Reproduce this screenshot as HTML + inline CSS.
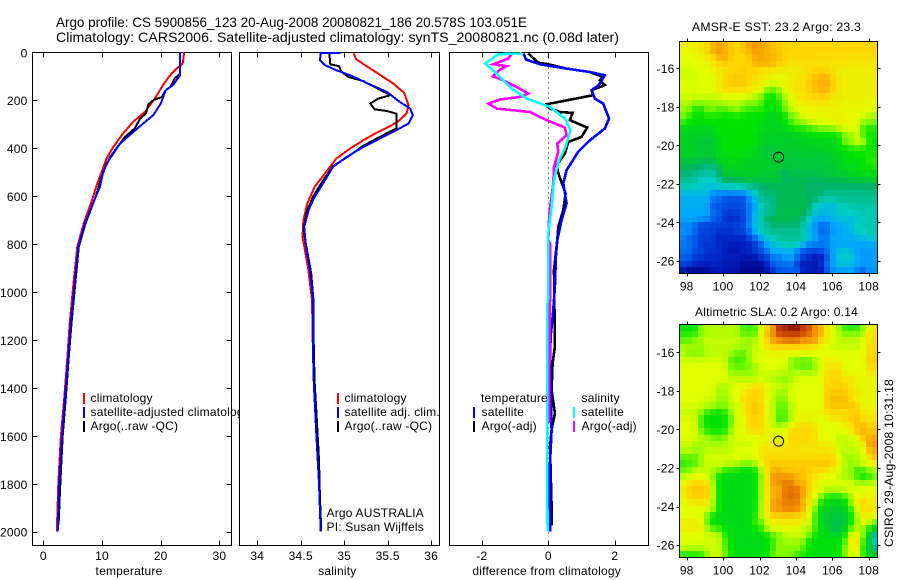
<!DOCTYPE html>
<html lang="en">
<head>
<meta charset="utf-8">
<title>Argo profile 5900856_123</title>
<style>
html,body{margin:0;padding:0;background:#fff;}
svg{display:block;font-family:"Liberation Sans",sans-serif;font-size:12px;fill:#000;letter-spacing:.2px;}
.big{font-size:14px;letter-spacing:0;}
.crisp line,.crisp rect,.crisp polyline{shape-rendering:crispEdges;}
polyline{fill:none;stroke-linejoin:miter;}
</style>
</head>
<body>
<svg id="chart" class="crisp" xmlns="http://www.w3.org/2000/svg" width="900" height="580" viewBox="0 0 900 580">
  <rect x="0" y="0" width="900" height="580" fill="#fff"/>
  <text class="big" x="56" y="27" textLength="471" lengthAdjust="spacingAndGlyphs">Argo profile: CS 5900856_123 20-Aug-2008 20080821_186 20.578S 103.051E</text>
  <text class="big" x="56" y="42" textLength="563" lengthAdjust="spacingAndGlyphs">Climatology: CARS2006. Satellite-adjusted climatology: synTS_20080821.nc (0.08d later)</text>
  <g id="p1"></g>
  <g id="p1legend">
    <line x1="84" y1="393" x2="84" y2="404" stroke="#f00" stroke-width="2"/>
    <line x1="84" y1="407" x2="84" y2="418" stroke="#00f" stroke-width="2"/>
    <line x1="84" y1="421" x2="84" y2="432" stroke="#000" stroke-width="2"/>
    <text x="90.5" y="402">climatology</text>
    <text x="90.5" y="416">satellite-adjusted climatology</text>
    <text x="90.5" y="430">Argo(..raw -QC)</text>
  </g>
  <g id="p2"></g>
  <g id="p2legend">
    <line x1="338" y1="393" x2="338" y2="404" stroke="#f00" stroke-width="2"/>
    <line x1="338" y1="407" x2="338" y2="418" stroke="#00f" stroke-width="2"/>
    <line x1="338" y1="421" x2="338" y2="432" stroke="#000" stroke-width="2"/>
    <text x="344.5" y="402">climatology</text>
    <text x="344.5" y="416">satellite adj. clim.</text>
    <text x="344.5" y="430">Argo(..raw -QC)</text>
    <text x="326.5" y="517">Argo AUSTRALIA</text>
    <text x="326.5" y="531">PI: Susan Wijffels</text>
  </g>
  <g id="p3"></g>
  <g id="p3legend">
    <text x="481" y="402">temperature</text>
    <text x="581.5" y="402">salinity</text>
    <line x1="474" y1="407" x2="474" y2="418" stroke="#00f" stroke-width="2"/>
    <line x1="474" y1="421" x2="474" y2="432" stroke="#000" stroke-width="2"/>
    <line x1="574" y1="407" x2="574" y2="418" stroke="#0ff" stroke-width="2"/>
    <line x1="574" y1="421" x2="574" y2="432" stroke="#f0f" stroke-width="2"/>
    <text x="481.5" y="416">satellite</text>
    <text x="481.5" y="430">Argo(-adj)</text>
    <text x="581.5" y="416">satellite</text>
    <text x="581.5" y="430">Argo(-adj)</text>
  </g>
  <text x="692" y="31" textLength="169" lengthAdjust="spacingAndGlyphs">AMSR-E SST: 23.2 Argo: 23.3</text>
  <g id="m1"></g>
  <text x="695" y="316" textLength="163" lengthAdjust="spacingAndGlyphs">Altimetric SLA: 0.2 Argo: 0.14</text>
  <g id="m2"></g>
  <text transform="translate(893,547) rotate(-90)" textLength="168" lengthAdjust="spacingAndGlyphs">CSIRO 29-Aug-2008 10:31:18</text>
</svg>
<script>
const depthTicks = [0,200,400,600,800,1000,1200,1400,1600,1800,2000];
const tempTicks = [0,10,20,30];
const salTicks = [34,34.5,35,35.5,36];
const diffTicks = [-2,0,2];
const lonTicks = [98,100,102,104,106,108];
const latTicks = [-16,-18,-20,-22,-24,-26];
const profileLon = 103.051;
const profileLat = -20.578;

const tempClimDepth = [0,47,68,96,137,193,249,290,346,395,442,499,554,610,713,811,950,1130,1270,1436,1600,1800,2000];
const tempClimValue = [24,23.75,22.7,21.6,20.4,19,17.3,15.3,13.35,11.9,10.8,9.95,9.1,8.4,6.9,5.8,5.2,4.5,4.1,3.6,3.0,2.55,2.3];
const tempSatDepth = [0,96,137,158,214,262,297,340,380,436,499,561,610,713,811,950,1130,1270,1436,1600,1800,2000];
const tempSatValue = [23.3,23.3,22.1,20.85,20,18.75,17,15,13.1,11.4,10.2,9.65,8.8,7.1,5.97,5.4,4.67,4.26,3.7,3.2,2.7,2.45];
const tempArgoDepth = [0,90,108,146,158,186,200,217,255,276,317,353,401,464,519,610,713,811,950,1130,1270,1436,1600,1800,1970];
const tempArgoValue = [23.3,23.3,22.4,21.6,20.85,20.2,18.75,17.9,17.5,16.5,15.6,13.9,12.5,10.8,9.95,8.8,7.2,6.05,5.5,4.8,4.35,3.85,3.3,2.9,2.6];

const salClimDepth = [5,30,54,89,130,170,221,253,283,308,336,367,401,443,505,561,630,700,770,900,1033,1242,1380,1600,1800,2000];
const salClimValue = [35.11,35.14,35.24,35.39,35.565,35.69,35.74,35.72,35.64,35.53,35.37,35.22,35.07,34.91,34.78,34.66,34.575,34.53,34.52,34.585,34.63,34.64,34.65,34.68,34.71,34.735];
const salSatDepth = [3,3,8,33,54,75,96,128,165,207,235,262,297,325,360,395,436,478,533,603,658,728,811,922,1033,1242,1380,1600,1800,2000];
const salSatValue = [34.96,34.73,34.73,34.72,34.78,34.91,35.07,35.26,35.49,35.64,35.76,35.79,35.74,35.6,35.41,35.22,35.03,34.87,34.78,34.66,34.59,34.54,34.56,34.61,34.64,34.64,34.65,34.68,34.71,34.73];
const salArgoDepth = [5,50,58,82,103,120,156,179,193,214,238,245,256,318,353,390,429,475,533,603,665,741,811,922,1033,1242,1380,1500,1700,1850,1990];
const salArgoValue = [34.83,34.84,34.94,34.97,35.05,35.22,35.41,35.53,35.39,35.3,35.35,35.49,35.6,35.6,35.41,35.22,35.07,34.87,34.76,34.64,34.57,34.53,34.565,34.62,34.645,34.65,34.66,34.68,34.71,34.72,34.735];

const diffTempSatDepth = [5,30,50,68,82,96,137,158,193,214,276,318,367,415,492,547,630,700,783,853,978,1075,1186,1300,1575,1715,2000];
const diffTempSatValue = [-0.75,-0.67,-0.25,0.55,1.25,1.7,1.52,1.3,1.4,1.65,1.83,1.7,1.25,0.9,0.55,0.45,0.55,0.4,0.27,0.23,0.2,0.15,0.07,0.05,0.1,0.05,0.05];
const diffTempArgoDepth = [5,44,50,68,82,103,117,137,158,179,218,235,249,253,283,314,353,374,422,471,505,589,658,728,783,908,1228,1297,1408,1507,1575,1646,1895,1975];
const diffTempArgoValue = [-0.6,-0.3,0,0.55,1.25,1.65,1.55,1.7,1.3,1.35,-0.1,0.05,0.35,0.73,0.65,1.17,1.0,0.6,0.5,0.25,0.3,0.52,0.45,0.3,0.27,0.17,0.2,0.13,0.1,0.2,0.1,0.05,0.1,0.1];
const diffSalSatDepth = [5,8,47,82,110,151,193,228,276,325,401,457,533,645,755,1020,1054,1575,1804,2000];
const diffSalSatValue = [-0.8,-1.5,-1.9,-1.6,-1.4,-1.1,-0.65,0.05,0.5,0.67,0.5,0.3,0.17,0.1,0,0,-0.03,-0.03,-0.03,-0.02];
const diffSalArgoDepth = [8,26,50,58,72,85,100,117,145,172,186,197,214,235,249,270,283,314,346,380,415,478,547,672,783,797,1020,1380,1546];
const diffSalArgoValue = [-1.1,-1.2,-1.65,-1.25,-1.45,-1.55,-1.67,-1.35,-0.95,-0.6,-0.85,-1.45,-1.8,-1.55,-0.55,-0.25,-0.05,0.5,0.55,0.27,0.3,0.17,0.15,0.03,0,0.05,0.05,0.03,0.02];

const colorLevels = [[0,0,130],[0,30,190],[0,90,235],[0,165,255],[0,205,195],[0,178,100],[0,228,0],[130,250,0],[225,255,0],[255,215,0],[245,150,0],[205,70,0],[140,15,0]];

const sstCells = [
[8.2,8.2,8.4,8.6,9,9.5,9.8,9.6,9.1,9,9.2,9.8,10,9.8,9.5,9.3,9.2,9.1,9,9,9,9,9,9,9,9,9,9,9,9,9,9,9],
[8.1,8.2,8.3,8.5,9,9.6,10,9.7,9.2,9,9.1,9.6,9.9,9.8,9.6,9.4,9.2,9.1,9,9,9,9,9,9,9,9,9,9,9,9,9,9,9],
[8,8,8.1,8.2,8.5,9,9.6,9.6,9.2,9,9,9,9.7,9.8,9.5,9.6,9.4,9,8.9,9,9,9,8.9,8.9,8.9,8.9,8.9,8.9,8.8,8.8,8.8,8.8,8.8],
[8,8,8,8.1,8.3,8.6,9,9.2,9,9,9,9,9.5,9.6,9.6,9.5,9,8.9,8.7,8.7,8.7,8.8,8.8,8.7,8.7,8.6,8.6,8.6,8.6,8.6,8.6,8.6,8.6],
[7.8,7.8,7.9,8,8,8.2,8.5,8.8,9,9.1,9.2,9,9,8.8,8.7,8.6,8.5,8.5,8.4,8.5,8.6,8.8,9,9.1,9,8.7,8.5,8.4,8.4,8.4,8.5,8.5,8.5],
[7.9,7.8,7.8,7.9,8,8.1,8.4,8.8,9.1,9.2,9.2,9.1,8.8,8.6,8.4,8.2,8.2,8.3,8.3,8.5,8.8,9,9.3,9.5,9.5,9,8.6,8.4,8.4,8.4,8.4,8.4,8.4],
[8,7.9,7.9,8,8,8.1,8.5,9,9.2,9.2,9.2,9.1,8.6,8.4,8,7.8,8,8.2,8.5,8.6,8.9,9.2,9.4,9.6,9.7,9.2,8.6,8.4,8.4,8.4,8.4,8.4,8.4],
[8,7.9,7.9,8,8,8.1,8.5,8.9,9,9,8.9,8.7,8.3,8.1,7,6.5,7.2,8,8.5,8.7,8.9,9,9.3,9.5,9.6,9,8.6,8.4,8.4,8.4,8.4,8.4,8.4],
[7.8,7.9,7.8,7.9,7.8,7.8,7.9,8,8,8,8,7.8,7.6,7,6.1,6,6.5,7.6,8.2,8.5,8.7,8.9,9.1,9.2,9,8.7,8.5,8.4,8.4,8.4,8.4,8.4,8.4],
[7.5,7.4,7,7,7,7.2,7.2,7.5,7.6,7.6,7.2,7,7,6.6,6,6,6.2,7,8,8.3,8.5,8.5,8.6,8.6,8.5,8.4,8.4,8.3,8.3,8.3,8.3,8.3,8.2],
[7.3,7,6.2,6.1,7,7,6.6,6.5,7,7.2,6.7,6.4,6.4,6.3,6,5.9,6,6.9,7.5,8,8.2,8.3,8.3,8.3,8.3,8.3,8.3,8.2,8.2,8.2,8.2,8.1,8],
[7,6.4,6,6,6.2,6.2,6.2,6,6,6.2,6,6,6,6,5.8,5.7,5.8,6,7,7.5,8,8.2,8.2,8.3,8.2,8.3,8.4,8.2,8.2,8.1,8,7.6,7.4],
[6.5,6,6,6,6,6,6,6,6,6,6,6,6,5.9,5.7,5.7,5.8,5.9,6.5,7,7.2,7.8,7.9,8,8.2,8.3,8.3,8.2,8.2,8,7.2,6.9,6.9],
[5.8,5.7,5.7,5.7,5.7,5.8,5.9,6,6,6,6,6,6,5.8,5.7,5.7,5.7,5.7,6,6.2,6.2,6.5,6.6,7,7,7,7.8,7.9,8,8.1,6.4,6.2,6.2],
[5.7,5.6,5.6,5.6,5.6,5.6,5.9,6,6,6,6,6,6,5.7,5.6,5.6,5.6,5.6,5.6,5.7,5.8,5.8,5.9,5.9,5.9,6,6,7,7.1,8,6.3,6.2,6.1],
[5.7,5.6,5.6,5.5,5.4,5.4,5.8,6,6,6,6,6,6,5.7,5.6,5.6,5.6,5.6,5.6,5.6,5.7,5.7,5.7,5.7,5.7,5.7,5.9,7,7.2,7.8,7.8,6,6],
[5.7,5.6,5.6,5.5,5.5,5.6,5.8,6,6,6,6,5.9,5.7,5.6,5.3,5.3,5.5,5.6,5.6,5.6,5.6,5.6,5.6,5.7,5.7,5.7,6,6,6.2,6.4,6.2,6,6],
[5.6,5.6,5.6,5.5,5.5,5.5,5.8,5.8,5.9,5.9,5.8,5.8,5.7,5.6,5.4,5.5,5.5,5.5,5.5,5.5,5.5,5.5,5.5,5.5,5.5,5.7,5.7,5.8,6,6,6,6.2,6.2],
[5.4,5.4,5.4,5.2,5.2,5.3,5.7,5.7,5.8,5.7,5.7,5.6,5.6,5.6,5.6,5.5,5.4,5.4,5.4,5.4,5.4,5.4,5.4,5.4,5.6,5.6,5.6,5.9,5.9,5.9,5.9,6.3,6.3],
[5.2,5.2,5,5,4.5,4.5,5.3,5.7,5.7,5.7,5.7,5.6,5.6,5.6,5.6,5.6,5.5,5.4,5.4,5.4,5.4,5.4,5.4,5.4,5.4,5.4,5.8,5.8,5.8,5.8,6.1,6.1,6.2],
[4.9,4.7,4.7,4.4,4.3,4.3,4.9,5.6,5.6,5.6,5.6,5.6,5.6,5.6,5.5,5.5,5.4,4.9,5.3,5.3,5.3,5.3,5.3,5.3,5.5,5.5,5.5,5.5,5.8,5.8,5.8,5.8,5.8],
[4.5,4.5,4.5,3.9,3.9,3.9,4.4,5.1,5.1,5.2,5.4,5.4,5.4,5.4,5.4,5.4,5.4,5,5.1,5.1,5.1,5.1,5.1,5.1,5.2,5.2,5.2,5.2,5.4,5.4,5.4,5.4,5.7],
[4.2,4.2,3.9,3.9,3.9,3.8,3.9,4,4,4.1,4.1,4.6,4.6,4.7,5.1,5.1,5.2,5.2,5.2,5.2,5.2,4.9,4.9,4.9,4.9,4.9,4.9,4.9,4.9,4.9,4.9,4.9,4.9],
[3.5,3.5,3.5,3.5,3.5,2.6,2.5,2.5,2.5,2.6,2.6,3.2,3.9,4.8,4.8,4.8,5.2,5.2,5.2,5.2,5.2,5,5,5,4.6,4.6,4.6,4.6,4.6,4.6,4.6,4.6,4.6],
[3.1,3.1,3.2,3.2,3.2,2.3,2.3,1.8,1.8,1.8,1.8,2.6,3.5,4.6,4.6,4.6,5.2,5.2,5.2,5.2,5.2,5,5,4.2,4.2,4.2,4.5,4.5,4.5,4.5,4.5,4.5,4.5],
[3.3,3.3,3.3,3.3,3,1.9,1.8,1.8,1.8,1.8,1.8,2.5,2.6,4,4.6,4.6,5.2,5.2,5.2,5.2,5.2,5,3.8,3.8,3.4,3.4,4,4,4.3,4.3,4.3,4.3,4.3],
[3.1,3.1,3.1,3.1,3.1,2.2,2.2,1.5,1.5,1.6,1.6,2.4,3.4,4.4,4.4,4.4,5.3,5.3,5.3,5.3,5.1,4.8,3.6,3.6,3.6,3.6,3.9,3.9,3.9,4.2,4.2,4.2,4.2],
[3,3,3,2.8,2.8,2,2,1.2,1.2,1.2,1.5,2.4,3.4,4.2,5.2,5.2,5.2,5.2,5.2,5.2,4.8,4,3,3,3,3.6,3.6,3.6,3.6,3.6,4.2,4.2,4.2],
[2.6,2.6,2.3,1.6,1.6,1.6,1.6,1.6,1.6,1.7,1.7,2.6,3.5,4.3,4.3,4.9,4.9,4.9,4.9,4.9,4.5,3.5,2.8,2.2,2.2,3,3,3.4,3.4,4.2,4.2,4.2,4.2],
[2.8,2.8,2.2,1.6,1.6,1.6,1.2,1.3,1.3,1.6,1.6,2.1,3.2,4,4.5,4.5,4.5,4.5,4.5,4.5,4.3,3.4,2.9,2.2,2.2,3,3,3.3,3.3,4,4,4.3,4.3],
[2.6,2,2,1.5,1.5,1.5,1.1,1.1,1.1,1.1,1.1,1.6,2.3,3.1,3.9,3.9,4.5,4.5,4.5,4.5,4.5,3.6,3,2.4,2.4,3.1,3.1,3.1,3.3,3.3,3.5,3.7,3.7],
[2.4,2.4,2,1.4,1.4,1.4,1.1,1.1,1,1,1,1.2,1.2,2.1,3,3.7,3.7,4.2,4.2,4.2,3.3,2.5,2.5,2.5,2.5,3,3,3,3,3,3,3.1,3.1],
[2.3,2.3,1.7,1.7,1.3,1.3,1.3,1,0.7,0.7,1,1,1.7,1.7,2.4,3.3,3.3,3.3,3.3,2.5,2,1.7,1.7,1.7,2.3,3,3.7,3.7,3.7,2.9,2.9,2.9,2.9],
[2.1,2.1,1.5,1.5,1.2,1.2,1.2,1,1,1,0.8,0.8,0.8,1.5,1.5,2.4,2.4,3,3,2.5,1.3,1.3,0.9,0.9,1.8,3,3.9,3.9,3.9,3,2.8,2.8,3],
[1.6,1.6,1.2,1.1,1.1,1.1,1.1,0.8,0.8,0.8,0.4,0.4,0.4,0.4,1.1,2.2,2.2,2.2,2.6,1.5,0.8,0.8,0.8,1.2,2.4,3,3.7,3.7,3.7,3,3,2.8,3],
[0.8,0.2,0.2,0.4,0.4,0.8,0.8,0.8,0.7,0.7,0.2,0.2,0.2,0.2,0.6,1.4,2,2,2,2.2,1,1,0.8,0.8,2,2.8,2.8,2.8,3,2.5,2,2.8,2.8]
];

const slaCells = [
[6,6,6,7,7.5,7.5,7.5,7.5,7.5,7.5,6.5,6.5,6.5,8,9,10,11.5,11.5,12,12,11,11,10,9.5,8.5,8,7.3,6.3,6.3,6.3,7,8.5,8.5],
[6.3,6.3,6.3,7,7.5,7.5,7.5,7.5,7.5,7.5,6.7,6.7,6.7,8,9.5,10,11,11,11,11,11,10.5,10,9.5,8.5,8,7.6,7,7,7,7.5,8.7,8.7],
[6.7,6.7,7.2,7.5,7.7,7.7,7.7,7.7,7.7,7.7,7.4,7.4,7.4,8,9,10,10,10.5,10.5,10.5,10,10,10,9,8.3,8,7.6,7.6,7.6,7.6,8,8.8,8.8],
[7.5,7.4,7.4,7,7.6,7.6,7.6,7.6,7.5,7.5,7.2,7.2,7.7,8,8.5,9,9,9,9,9,9,9,8.5,8,8,7.7,7.7,7.7,7.7,7.7,8,9,9],
[7.5,7,7,7,7.5,7.6,7.6,7.6,7.3,6.7,6.7,7.2,7.8,7.8,8.2,8.2,8.2,8.2,8.2,8.2,8,8,8,8,8,8,8,8,8,8,8,9,9],
[7.8,7.8,7.8,7.8,7.8,7.8,7.8,7.8,6.5,6.5,6.5,7.2,8,8,8,8,8,8,7.2,6.7,6.7,6.7,7.5,8,8.3,8.3,8.3,8,8,8,8,9.2,9.2],
[8,8,8,8,8,8,8,8,6.8,6.8,6.8,6.8,7.3,8,8,8,8,8,7,7,6.6,6.6,7.3,7.9,8.7,8.7,8.7,8,8,8,8,9,9],
[8,8,8,8,8,8,8,8,7.2,7.2,7.2,7.2,7.3,7.8,7.8,7.8,7.5,7.5,7.5,7.5,7.5,7.5,7.5,8,9,9,9,8.2,8.2,8.2,8,8.6,8.6],
[8,8,8,8,8,8,8,8,7.7,7.7,7.7,7.6,7.6,7.7,7.7,7.5,7.2,7.2,7.2,8,8,8,8,8,9,9,9,8.6,8.6,8.2,8.2,8.2,8.2],
[8,8,8,8,8,8,7.5,7.5,7.7,8,8.2,8.2,8.9,8.9,8.2,7.9,7.9,7.5,8,8,8,8,8,8,9.1,9.1,9.1,9.1,8.8,8.2,8.2,8.2,8.2],
[8,8,8,8,8,8,7.3,7.3,8,8,8.3,9,9,9,8.2,7.8,7.2,7.2,8,8,8,8,8,8,9.2,9.2,9.2,9.2,8.7,8.7,8.2,8.2,8.2],
[8,8,8,8,7.7,7.7,7.2,7.2,7.7,8,9,9,9,9,8.2,7.6,7,7,8,8,8,8,8,8,9,9.5,9.5,9.5,9,8.2,8.2,8.2,8.2],
[7.9,7.9,7.9,7.9,7.5,7.5,7,7,7.7,7.7,8.2,9.2,9.2,9.2,8.2,7.6,6.7,6.7,7.7,8,8,8,8,8,9.3,9.3,9.3,9.3,9.3,9,8.3,8.3,8.3],
[7.7,7.7,7.7,7,6.5,6,6,6.3,7,8.2,8.2,9.2,9.2,9.2,8.2,7.7,6.6,6.6,7.5,8.2,8.2,8.2,8.2,8.2,9,9,9,9,9,9.3,8.5,8.5,8.5],
[7.9,7.9,7.9,6.5,5.9,5.9,5.9,6,6.8,8,8,9,9,9,8.2,7.8,6.3,6.3,7.6,8.2,8.2,8.2,8.2,8,8,8.7,8.7,8.7,9.3,9.3,8.8,8.8,8.8],
[8,8,8,6.5,6,6,6,6,6.8,8,8,9,9,9,8.2,7.7,7,7.7,8,8.8,8.8,8.8,8.5,8,8,8,8,8.6,8.6,9.4,9.4,9,9],
[8,8,8,7,6.2,6.2,6.2,6.2,7.3,8,8,8.8,8.8,8.8,8.2,8,8,8,9,9,9,9,8.8,8,8,8,8,8,8.5,9.5,9.5,9.4,9.4],
[7.9,7.9,7.9,7.5,7.5,6.8,6.8,7,7.9,7.9,7.9,7.9,7.9,8,8.2,8.2,8.2,8.2,9,9,9,9,8.8,8,8,8,7.7,7.7,7.7,8,9.5,9.5,9.7],
[7.8,7.8,7.3,7.3,7.3,7.4,7.4,7.4,7.8,7.8,7.8,7.8,7.8,8.5,8.5,8.5,8.5,8.5,8.8,8.8,8.8,8.8,8.8,8.4,8.4,8.4,7.6,7.6,7.8,7.8,8.3,10,10],
[7.6,7.6,7.3,7.3,7.6,7.6,7.6,7.6,7.6,8,8,8,8,8.5,8.8,8.8,8.8,8.8,8.8,8.8,8.7,8.7,8.7,8.7,8.7,8.7,7.7,7.7,7.6,7.6,8,9.6,9.6],
[6.7,6.7,6.7,7.3,7.9,7.9,7.9,7.9,7.9,8,8,8,8,8.5,9,9,8.8,8.8,8.8,8.8,8.8,8.8,8.8,9,9,9,8,7.3,7.3,7.6,7.8,8.7,9.5],
[6.3,6.5,6.5,7.2,7.8,7.8,7.8,7.8,7.8,7.5,7,7,7.4,8.5,9,9.2,9.2,9.2,9.2,9.2,9.2,9.2,9.3,9.3,9.3,9.3,8.3,7.5,7,7.4,8,8,8.5],
[6.8,6.8,7.7,7.7,7.7,7.3,7.3,6.2,6.2,6.2,5.9,5.9,5.9,7.4,8.8,9.6,9.6,9.2,9.2,9.2,9.2,9.2,8.9,8.9,8.9,8.2,8,7.3,7.3,6.3,6.3,7.3,7.3],
[7.6,8,8,8,8,7,5.9,5.8,5.8,5.8,5.8,5.8,5.9,7,8.6,10,10,10,10,9.4,9.4,8.9,8.9,8.2,8,8,7.7,7.3,7.3,6.5,6,6,7],
[8,8.7,9,9,8.8,7.5,5.9,5.8,5.8,5.8,5.8,5.8,5.9,7.3,8.6,10,10,10.3,10.3,9.6,9.6,9,8.3,8,8,8,8,8,8,7.3,7.3,7.6,7.6],
[8.3,9.2,9.2,9.2,9.2,7.5,5.9,5.8,5.8,5.8,5.8,5.8,5.9,7.3,8.6,9.6,9.6,10.4,10.4,10.4,9.8,9,8.2,8,7.6,7.6,7.6,7.7,8,8,8,8.2,8.2],
[8.2,9.2,9.2,9.2,9.2,7.7,5.9,5.8,5.8,5.8,5.8,5.8,5.9,7.2,8.5,9.7,9.7,10.5,10.5,10.5,9.8,9,8,7.3,6.2,6.2,6.2,6.7,7.5,8.2,8.2,8.2,8.2],
[8,8.5,8.5,8.5,8.5,7.4,5.9,5.8,5.8,5.8,5.8,5.8,5.9,7.4,8.5,10,10,10.3,10.3,10.3,9.6,8.7,7.8,5.9,5.8,5.7,5.7,5.8,7,8.8,9,8.5,8.5],
[8,8,8,8,8,7.5,5.9,5.8,5.8,5.8,5.8,5.8,5.9,7.4,8.5,10,10,10.3,10.3,10.3,9.5,8.3,6.8,5.7,5.6,5.6,5.6,5.7,6.3,7.8,9,9,8.5],
[8,8,8,8,7,5.9,5.8,5.8,5.8,5.8,5.8,5.8,6.1,7.7,8.4,9.2,9.2,9.2,9.2,9,9,8,6.5,5.7,5.5,5.4,5.4,5.5,6,7.5,8.5,8.5,8.2],
[8.5,8.5,8.5,8.5,6.5,5.9,5.8,5.8,5.8,5.8,5.8,5.8,6.5,6.6,8,8.5,8.5,8.5,8.5,8.5,8.5,8,6.5,5.7,5.5,5.3,5.3,5.4,5.9,7.4,8,8,6.7],
[8.5,8.5,8.5,8.5,7.5,6.5,6.3,5.9,5.8,5.8,5.8,5.8,5.9,6.3,7.5,8,8,8,8,8,7.5,7.5,6.5,5.8,5.6,5.3,5.3,5.6,6.8,7.4,7.4,6,5.7],
[8,8,8,8,7.8,7.8,7.8,6,5.9,5.8,5.8,5.8,5.8,5.8,5.9,6.8,6.8,7.8,7.8,7.8,7.8,6.8,6,5.9,5.8,5.6,5.6,6,8,8.7,7,5.5,4.2],
[8,8,8,8,7.8,7.8,7.8,6.5,5.9,5.8,5.8,5.8,5.8,5.8,5.9,6.3,7.2,7.2,7.3,7.3,7,6,5.9,5.9,5.9,5.9,6,6.5,8.5,9,6.3,5.5,3.7],
[7.8,7.5,7.5,7.5,7.8,7.8,7.8,6.6,5.9,5.8,5.8,5.8,5.8,5.8,5.9,6.4,7.3,7,7,7.2,6.5,6,5.9,5.9,5.9,5.9,6,6.8,8.5,8.8,6,5.5,4.6],
[6.2,6.2,6.2,6.2,7.2,7.8,7.8,7,6,5.9,5.9,5.9,5.9,5.9,6,6.8,7,7,7,6.3,6.3,6,5.9,5.9,5.9,5.9,6,7,8,8,6.5,5.5,5.5]
];

const NS = 'http://www.w3.org/2000/svg';

function depthY(d) { return 52.3 + d * 0.2397; }
function tempX(v) { return 43.3 + v * 5.87; }
function salX(v) { return 257.3 + (v - 34) * 86.9; }
function diffX(v) { return 548.3 + v * 33.25; }
function lonX(v) { return 686.7 + (v - 98) * 18.2; }
function latY1(v) { return 68.3 + (-16 - v) * 19.27; }
function latY2(v) { return 352.3 + (-16 - v) * 19.28; }

function mkLine(parent, name, x1, y1, x2, y2) {
  const el = document.createElementNS(NS, 'line');
  
  
  el.setAttribute('x1', x1);
  el.setAttribute('y1', y1);
  el.setAttribute('x2', x2);
  el.setAttribute('y2', y2);
  el.setAttribute('stroke', '#000');
  el.setAttribute('stroke-width', 1);
  parent.appendChild(el);
  return el;
}

function mkText(parent, name, x, y, anchor, str) {
  const el = document.createElementNS(NS, 'text');
  
  
  el.setAttribute('x', x);
  el.setAttribute('y', y);
  el.setAttribute('text-anchor', anchor);
  el.textContent = str;
  parent.appendChild(el);
  return el;
}

function mkFrame(parent, name, x0, y0, x1, y1, fill) {
  const el = document.createElementNS(NS, 'rect');
  
  
  el.setAttribute('x', x0);
  el.setAttribute('y', y0);
  el.setAttribute('width', x1 - x0);
  el.setAttribute('height', y1 - y0);
  el.setAttribute('fill', fill);
  el.setAttribute('stroke', '#000');
  el.setAttribute('stroke-width', 1);
  parent.appendChild(el);
  return el;
}

function mkSeries(parent, name, depths, values, xFn, color, width) {
  const el = document.createElementNS(NS, 'polyline');
  
  
  const pts = [];
  for (let i = 0; i < depths.length; i++) {
    pts.push(xFn(values[i]).toFixed(1) + ',' + depthY(depths[i]).toFixed(1));
  }
  el.setAttribute('points', pts.join(' '));
  el.setAttribute('stroke', color);
  el.setAttribute('stroke-width', width);
  parent.appendChild(el);
  return el;
}

function drawProfilePanel(id, box, xTicks, xFn, axisTitle, titleX, withDepth, series) {
  const g = document.getElementById(id);
  mkFrame(g, axisTitle + '-axes-frame', box[0], 52.5, box[1], 545.5, '#fff');
  xTicks.forEach(function (t) {
    const x = Math.round(xFn(t)) + 0.5;
    mkLine(g, axisTitle + '-top-tick', x, 52.5, x, 57.5);
    mkLine(g, axisTitle + '-bottom-tick', x, 540.5, x, 545.5);
    mkText(g, axisTitle + '-tick-label', xFn(t), 560, 'middle', String(t));
  });
  if (withDepth) {
    depthTicks.forEach(function (d) {
      const y = Math.round(depthY(d)) + 0.5;
      mkLine(g, 'depth-left-tick', box[0], y, box[0] + 5, y);
      mkLine(g, 'depth-right-tick', box[1] - 5, y, box[1], y);
      mkText(g, 'depth-tick-label', 27.5, depthY(d) + 5, 'end', String(d));
    });
  }
  mkText(g, axisTitle + '-axis-title', titleX, 575, 'middle', axisTitle === 'difference' ? 'difference from climatology' : axisTitle);
  series.forEach(function (s) {
    mkSeries(g, s[0], s[1], s[2], xFn, s[3], s[4]);
  });
}

function levelColor(v) {
  const i = Math.max(0, Math.min(colorLevels.length - 2, Math.floor(v)));
  const f = Math.max(0, Math.min(1, v - i));
  const a = colorLevels[i];
  const b = colorLevels[i + 1];
  return 'rgb(' + Math.round(a[0] + (b[0] - a[0]) * f) + ',' + Math.round(a[1] + (b[1] - a[1]) * f) + ',' + Math.round(a[2] + (b[2] - a[2]) * f) + ')';
}

function softLevel(cells, r, c) {
  const rows = cells.length;
  const cols = cells[0].length;
  const up = cells[Math.max(0, r - 1)][c];
  const down = cells[Math.min(rows - 1, r + 1)][c];
  const left = cells[r][Math.max(0, c - 1)];
  const right = cells[r][Math.min(cols - 1, c + 1)];
  return (cells[r][c] * 4 + up + down + left + right) / 8;
}

function drawMap(id, name, cells, y0, y1, latFn) {
  const g = document.getElementById(id);
  const x0 = 679.5;
  const x1 = 877.5;
  const rows = cells.length;
  const cols = cells[0].length;
  for (let r = 0; r < rows; r++) {
    const top = Math.round(y0 + (y1 - y0) * r / rows);
    const bot = Math.round(y0 + (y1 - y0) * (r + 1) / rows);
    for (let c = 0; c < cols; c++) {
      const left = Math.round(x0 + (x1 - x0) * c / cols);
      const right = Math.round(x0 + (x1 - x0) * (c + 1) / cols);
      const el = document.createElementNS(NS, 'rect');
      
      
      el.setAttribute('x', left);
      el.setAttribute('y', top);
      el.setAttribute('width', right - left);
      el.setAttribute('height', bot - top);
      el.setAttribute('fill', levelColor(softLevel(cells, r, c)));
      g.appendChild(el);
    }
  }
  mkFrame(g, name + '-frame', x0, y0, x1, y1, 'none');
  lonTicks.forEach(function (lon) {
    const x = Math.round(lonX(lon)) + 0.5;
    mkLine(g, name + '-top-tick', x, y0 - 3, x, y0);
    mkLine(g, name + '-bottom-tick', x, y1, x, y1 + 3);
    mkText(g, name + '-longitude-label', lonX(lon), y1 + 17, 'middle', String(lon));
  });
  latTicks.forEach(function (lat) {
    const y = Math.round(latFn(lat)) + 0.5;
    mkLine(g, name + '-left-tick', x0 - 3, y, x0, y);
    mkLine(g, name + '-right-tick', x1, y, x1 + 3, y);
    mkText(g, name + '-latitude-label', 674.5, latFn(lat) + 4.5, 'end', String(lat));
  });
  const circle = document.createElementNS(NS, 'circle');
  
  
  circle.setAttribute('cx', lonX(profileLon));
  circle.setAttribute('cy', latFn(profileLat) + 0.6);
  circle.setAttribute('r', 5);
  circle.setAttribute('fill', 'none');
  circle.setAttribute('stroke', '#000');
  circle.setAttribute('stroke-width', 1);
  g.appendChild(circle);
}

drawProfilePanel('p1', [32.5, 231.5], tempTicks, tempX, 'temperature', 129, true, [
  ['temperature-climatology-line', tempClimDepth, tempClimValue, '#f00', 2],
  ['temperature-argo-line', tempArgoDepth, tempArgoValue, '#000', 2],
  ['temperature-satellite-line', tempSatDepth, tempSatValue, '#00f', 2]
]);

drawProfilePanel('p2', [239.5, 439.5], salTicks, salX, 'salinity', 337.3, false, [
  ['salinity-climatology-line', salClimDepth, salClimValue, '#f00', 2],
  ['salinity-argo-line', salArgoDepth, salArgoValue, '#000', 2],
  ['salinity-satellite-line', salSatDepth, salSatValue, '#00f', 2]
]);

drawProfilePanel('p3', [449.5, 648.5], diffTicks, diffX, 'difference', 546.7, false, []);
(function () {
  const g = document.getElementById('p3');
  const zero = mkLine(g, 'zero-difference-line', 548.5, 52.5, 548.5, 537);
  zero.setAttribute('stroke-dasharray', '1 4');
  mkSeries(g, 'difference-temp-argo-line', diffTempArgoDepth, diffTempArgoValue, diffX, '#000', 2.6);
  mkSeries(g, 'difference-temp-satellite-line', diffTempSatDepth, diffTempSatValue, diffX, '#00f', 2.6);
  mkSeries(g, 'difference-sal-argo-line', diffSalArgoDepth, diffSalArgoValue, diffX, '#f0f', 2.6);
  mkSeries(g, 'difference-sal-satellite-line', diffSalSatDepth, diffSalSatValue, diffX, '#0ff', 2.6);
})();

drawMap('m1', 'sst-map', sstCells, 41.5, 273.5, latY1);
drawMap('m2', 'sla-map', slaCells, 324.5, 557.5, latY2);

/* the panel 1 legend overflows to the right and is hidden by the salinity panel background */
(function () {
  const svg = document.getElementById('chart');
  const p1legend = document.getElementById('p1legend');
  const p2 = document.getElementById('p2');
  svg.insertBefore(p1legend, p2);
})();
</script>
</body>
</html>
